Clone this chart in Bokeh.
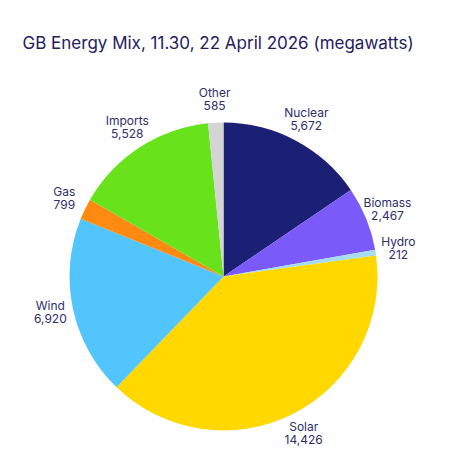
import math
from bokeh.plotting import figure
from bokeh.models import Range1d, ColumnDataSource
from bokeh.core.properties import value
from bokeh.embed import file_html
from bokeh.resources import INLINE

categories = ["Nuclear", "Biomass", "Hydro", "Solar", "Wind", "Gas", "Imports", "Other"]
megawatts = [5672, 2467, 212, 14426, 6920, 799, 5528, 585]
colors = ["#1c2075", "#7a5af8", "#a6dcf2", "#ffd800", "#52c6fc", "#ff8a12", "#67e21b", "#d4d4d4"]
value_labels = ["5,672", "2,467", "212", "14,426", "6,920", "799", "5,528", "585"]
title_text = "GB Energy Mix, 11.30, 22 April 2026 (megawatts)"

W, H = 474, 474
cx, cy = 223, H - 276
R = 154
RL = 177

total = float(sum(megawatts))
starts, ends, lx, ly = [], [], [], []
acc = 0.0
for v in megawatts:
    a0 = acc / total
    acc += v
    a1 = acc / total
    starts.append(math.pi / 2 - 2 * math.pi * a0)
    ends.append(math.pi / 2 - 2 * math.pi * a1)
    mid = (a0 + a1) / 2 * 2 * math.pi
    lx.append(cx + RL * math.sin(mid))
    ly.append(cy + RL * math.cos(mid))

src = ColumnDataSource(dict(
    cat=categories, val=value_labels, color=colors, start=starts, end=ends,
    lx=lx, ly=ly,
))

p = figure(width=W, height=H, output_backend="svg", toolbar_location=None,
           x_range=Range1d(0, W), y_range=Range1d(0, H), min_border=0)
p.axis.visible = False
p.grid.visible = False
p.outline_line_color = None
p.background_fill_color = "white"

p.wedge(x=cx, y=cy, radius=R, start_angle="start", end_angle="end",
        direction="clock", fill_color="color", line_color=None, source=src)

lab_color = "#2e2e66"
p.text(x="lx", y="ly", text="cat", source=src, text_align="center",
       text_baseline="bottom", text_font=value("Inter"), text_font_size="12px",
       text_color=lab_color)
p.text(x="lx", y="ly", text="val", source=src, text_align="center",
       text_baseline="top", text_font=value("Inter"), text_font_size="12px",
       text_color=lab_color, y_offset=1)

p.text(x=[22], y=[H - 42], text=[title_text], text_align="left",
       text_baseline="alphabetic", text_font=value("Inter"), text_font_size="17px",
       text_color="#1f2060")

open("out.html", "w").write(file_html(p, INLINE))
